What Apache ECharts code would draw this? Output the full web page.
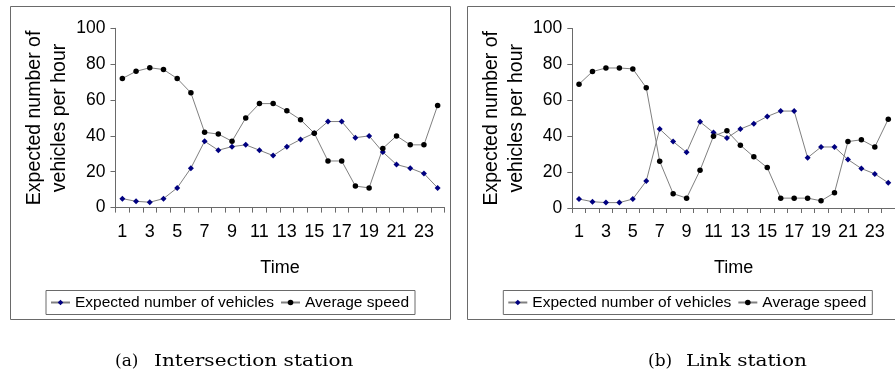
<!DOCTYPE html>
<html>
<head>
<meta charset="utf-8">
<script src="https://cdn.jsdelivr.net/npm/echarts@6/dist/echarts.min.js"></script>
<style>
  html, body { margin: 0; padding: 0; background: #fff; }
  #chart { width: 895px; height: 375px; }
</style>
</head>
<body>
<div id="chart"></div>
<script>
// Hour of day (category axis)
const hours = ['1','2','3','4','5','6','7','8','9','10','11','12','13','14','15','16','17','18','19','20','21','22','23','24'];

// (a) Intersection station
const intersectionVehicles = [5, 3.5, 3, 5, 11, 22, 37, 32, 34, 35, 32, 29, 34, 38, 41.5, 48, 48, 39, 40, 31, 24, 22, 19, 11];
const intersectionSpeed    = [72, 76, 78, 77, 72, 64, 42, 41, 37, 50, 58, 58, 54, 49, 41.5, 26, 26, 12, 11, 33, 40, 35, 35, 57];

// (b) Link station
const linkVehicles = [5, 3.5, 3, 3, 5, 15, 44, 37, 31, 48, 42, 39, 44, 47, 51, 54, 54, 28, 34, 34, 27, 22, 19, 14];
const linkSpeed    = [69, 76, 78, 78, 77.5, 67, 26, 8, 5.5, 21, 40, 43, 35, 28.5, 22.5, 5.5, 5.5, 5.5, 4, 8.5, 37, 38, 34, 49.5];

// Y axis ticks
const yMin = 0, yMax = 100, yStep = 20;

const volumeName = 'Expected number of vehicles';
const speedName = 'Average speed';
const yTitle = 'Expected number of\nvehicles per hour';
const xTitle = 'Time';
const captions = [['(a)', 'Intersection station'], ['(b)', 'Link station']];

const SANS = 'Liberation Sans, Arial, sans-serif';
const SERIF = 'DejaVu Serif, serif';
const axisGray = '#6a6a6a';
const lineGray = '#808080';

const grids = [
  { left: 115.5, top: 28.3, width: 329, height: 179.3 },
  { left: 572.3, top: 28.5, width: 328, height: 179.5 }
];

function xAxisFor(i) {
  return {
    type: 'category', gridIndex: i, data: hours, boundaryGap: true,
    name: xTitle, nameLocation: 'middle', nameGap: 51,
    nameTextStyle: { fontFamily: SANS, fontSize: 18, color: '#000' },
    axisLine: { lineStyle: { color: axisGray, width: 1 } },
    axisTick: { show: true, interval: 0, length: 5, lineStyle: { color: axisGray } },
    axisLabel: { interval: 1, margin: 15, fontFamily: SANS, fontSize: 18, color: '#000' },
    splitLine: { show: false }
  };
}
function yAxisFor(i) {
  return {
    type: 'value', gridIndex: i, min: yMin, max: yMax, interval: yStep,
    name: yTitle, nameLocation: 'middle', nameGap: 42, nameRotate: 90,
    nameTextStyle: { fontFamily: SANS, fontSize: 19.5, lineHeight: 25, color: '#000' },
    axisLine: { show: true, lineStyle: { color: axisGray, width: 1 } },
    axisTick: { show: true, length: 5, lineStyle: { color: axisGray } },
    axisLabel: { margin: 10, fontFamily: SANS, fontSize: 17.5, color: '#000' },
    splitLine: { show: false }
  };
}
function volumeSeries(i, data) {
  return {
    name: volumeName, type: 'line', xAxisIndex: i, yAxisIndex: i, data: data,
    symbol: 'diamond', symbolSize: 6, showAllSymbol: true,
    lineStyle: { color: lineGray, width: 1 }, itemStyle: { color: '#000080' },
    emphasis: { disabled: true }, animation: false
  };
}
function speedSeries(i, data) {
  return {
    name: speedName, type: 'line', xAxisIndex: i, yAxisIndex: i, data: data,
    symbol: 'circle', symbolSize: 5.5, showAllSymbol: true,
    lineStyle: { color: lineGray, width: 1 }, itemStyle: { color: '#000' },
    emphasis: { disabled: true }, animation: false
  };
}
function legendFor(left) {
  return {
    left: left, top: 290.5, orient: 'horizontal',
    padding: [4, 6, 4, 4], itemGap: 6, itemWidth: 19, itemHeight: 7,
    borderColor: axisGray, borderWidth: 1, backgroundColor: '#fff',
    selectedMode: false,
    textStyle: { fontFamily: SANS, fontSize: 15.5, color: '#000' },
    data: [volumeName, speedName]
  };
}
function captionGraphics(label, text, xLabel, xText, y) {
  return [
    { type: 'text', x: xLabel, y: y,
      style: { text: label, font: '17px ' + SERIF, fill: '#000', verticalAlign: 'middle', align: 'left' } },
    { type: 'text', x: xText, y: y, scaleX: 1.18,
      style: { text: text, font: '17px ' + SERIF, fill: '#000', verticalAlign: 'middle', align: 'left' } }
  ];
}

const chart = echarts.init(document.getElementById('chart'), null, { renderer: 'canvas' });
chart.setOption({
  animation: false,
  backgroundColor: '#fff',
  grid: grids,
  xAxis: [xAxisFor(0), xAxisFor(1)],
  yAxis: [yAxisFor(0), yAxisFor(1)],
  legend: [legendFor(46), legendFor(503.3)],
  series: [
    volumeSeries(0, intersectionVehicles),
    speedSeries(0, intersectionSpeed),
    volumeSeries(1, linkVehicles),
    speedSeries(1, linkSpeed)
  ],
  graphic: [
    { type: 'rect', shape: { x: 10.5, y: 6.5, width: 440, height: 313 }, z: -10,
      style: { fill: 'none', stroke: axisGray, lineWidth: 1 }, silent: true },
    { type: 'rect', shape: { x: 467.5, y: 6.5, width: 460, height: 313 }, z: -10,
      style: { fill: 'none', stroke: axisGray, lineWidth: 1 }, silent: true }
  ].concat(
    captionGraphics(captions[0][0], captions[0][1], 115, 154, 362),
    captionGraphics(captions[1][0], captions[1][1], 648, 686, 362)
  )
});
</script>
</body>
</html>
